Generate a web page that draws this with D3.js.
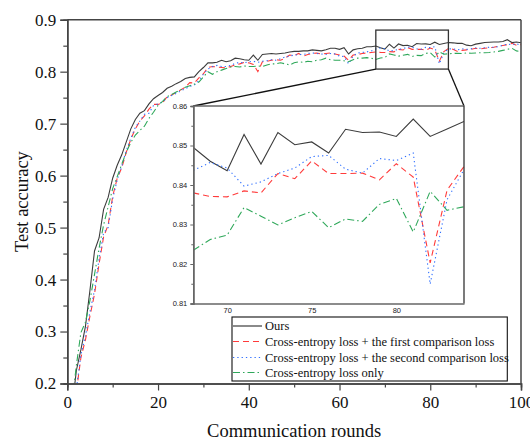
<!DOCTYPE html>
<html><head><meta charset="utf-8">
<script src="https://cdn.jsdelivr.net/npm/d3@7"></script>
<style>
body{margin:0;background:#fff;}
svg{display:block;}
.serif{font-family:"Liberation Serif","Times New Roman",serif;}
</style></head>
<body><div id="chart"></div>
<script>
// ---------- DATA ----------
const rounds = d3.range(1, 101);
const seriesNames = ["Ours","Cross-entropy loss + the first comparison loss","Cross-entropy loss + the second comparison loss","Cross-entropy loss only"];
const ours = [0.150,0.225,0.265,0.310,0.380,0.455,0.480,0.535,0.558,0.595,
0.620,0.640,0.665,0.690,0.708,0.720,0.725,0.738,0.748,0.754,
0.760,0.768,0.772,0.777,0.781,0.787,0.789,0.790,0.800,0.808,
0.817,0.817,0.818,0.822,0.819,0.821,0.826,0.825,0.823,0.822,
0.832,0.822,0.833,0.834,0.835,0.834,0.835,0.836,0.838,0.839,
0.839,0.840,0.840,0.842,0.841,0.840,0.842,0.845,0.845,0.843,
0.846,0.834,0.842,0.844,0.845,0.848,0.848,0.8495,0.846,0.8436,
0.8528,0.8453,0.8533,0.8502,0.8509,0.8481,0.8541,0.8533,0.8534,0.8523,
0.8567,0.8523,0.8542,0.8561,0.8555,0.8545,0.8548,0.8510,0.8500,0.8530,
0.8545,0.8560,0.8565,0.8570,0.8570,0.8580,0.8615,0.8560,0.8570,0.8555];
const firstLoss = [0.130,0.185,0.250,0.284,0.330,0.372,0.430,0.482,0.505,0.560,
0.595,0.615,0.645,0.670,0.690,0.705,0.715,0.728,0.737,0.737,
0.740,0.752,0.755,0.760,0.765,0.770,0.779,0.778,0.788,0.796,
0.808,0.810,0.809,0.808,0.807,0.810,0.813,0.815,0.818,0.817,
0.814,0.800,0.819,0.820,0.822,0.823,0.822,0.826,0.832,0.831,
0.835,0.830,0.833,0.835,0.836,0.834,0.835,0.836,0.834,0.832,
0.830,0.822,0.832,0.833,0.835,0.836,0.837,0.8380,0.8371,0.8370,
0.8385,0.8380,0.8429,0.8416,0.8461,0.8429,0.8429,0.8430,0.8413,0.8454,
0.8420,0.8203,0.8387,0.8447,0.8430,0.8390,0.8410,0.8420,0.8430,0.8450,
0.8440,0.8450,0.8460,0.8470,0.8490,0.8505,0.8520,0.8545,0.8510,0.8520];
const secondLoss = [0.135,0.190,0.255,0.292,0.338,0.380,0.440,0.490,0.500,0.555,
0.592,0.618,0.648,0.672,0.693,0.705,0.718,0.720,0.735,0.738,
0.742,0.750,0.754,0.758,0.763,0.767,0.772,0.774,0.783,0.795,
0.805,0.810,0.812,0.810,0.810,0.812,0.816,0.818,0.817,0.819,
0.820,0.818,0.820,0.821,0.823,0.822,0.825,0.828,0.830,0.832,
0.833,0.833,0.835,0.836,0.835,0.834,0.833,0.835,0.834,0.830,
0.829,0.815,0.830,0.836,0.837,0.838,0.840,0.8437,0.8457,0.8443,
0.8397,0.8408,0.8429,0.8443,0.8472,0.8475,0.8440,0.8430,0.8467,0.8462,
0.8481,0.8149,0.8363,0.8439,0.8440,0.8420,0.8440,0.8430,0.8440,0.8455,
0.8450,0.8460,0.8470,0.8470,0.8480,0.8510,0.8530,0.8520,0.8540,0.8500];
const ceOnly = [0.160,0.235,0.298,0.318,0.360,0.410,0.460,0.505,0.540,0.575,
0.598,0.622,0.645,0.664,0.678,0.687,0.695,0.710,0.722,0.735,
0.743,0.752,0.756,0.761,0.765,0.770,0.773,0.776,0.780,0.790,
0.800,0.795,0.800,0.803,0.806,0.809,0.810,0.809,0.811,0.810,
0.810,0.811,0.810,0.813,0.815,0.815,0.817,0.815,0.813,0.817,
0.819,0.818,0.820,0.819,0.822,0.823,0.826,0.823,0.822,0.822,
0.821,0.819,0.823,0.826,0.826,0.827,0.826,0.8235,0.8262,0.8273,
0.8343,0.8321,0.8299,0.8317,0.8333,0.8292,0.8314,0.8308,0.8351,0.8366,
0.8281,0.8384,0.8336,0.8345,0.8350,0.8355,0.8350,0.8360,0.8355,0.8360,
0.8365,0.8365,0.8370,0.8380,0.8390,0.8410,0.8430,0.8450,0.8400,0.8380];
const xTicks = [0,20,40,60,80,100];
const yTicks = [0.2,0.3,0.4,0.5,0.6,0.7,0.8,0.9];
const insetXTicks = [70,75,80];
const insetYTicks = [0.81,0.82,0.83,0.84,0.85,0.86];
const insetXDomain = [68,84];
const insetYDomain = [0.81,0.86];
const zoomBoxY = [0.805,0.880];

// ---------- STYLE ----------
const colors = ["#3c3c3c","#ff3b3b","#2f6fff","#2fa85a"];
const dashes = [null,"6,4","1.3,3","7,3,1.5,3"];
const allSeries = [ours, firstLoss, secondLoss, ceOnly];

const W=530,H=441;
const m={l:67.3,r:521,t:19.7,b:383.5};
const svg=d3.select("#chart").append("svg").attr("width",W).attr("height",H);
const x=d3.scaleLinear().domain([0,100]).range([m.l,m.r]);
const y=d3.scaleLinear().domain([0.2,0.9]).range([m.b,m.t]);
const axisColor="#444";

svg.append("clipPath").attr("id","mainclip").append("rect")
  .attr("x",m.l).attr("y",m.t).attr("width",m.r-m.l).attr("height",m.b-m.t);

const line=d3.line().x((d,i)=>x(rounds[i])).y(d=>y(d));
const gLines=svg.append("g").attr("clip-path","url(#mainclip)");
allSeries.forEach((s,k)=>{
  gLines.append("path").attr("d",line(s)).attr("fill","none")
   .attr("stroke",colors[k]).attr("stroke-width",1.1)
   .attr("stroke-dasharray",dashes[k]);
});

// frame top/right
svg.append("line").attr("x1",m.l).attr("x2",m.r).attr("y1",m.t).attr("y2",m.t).attr("stroke",axisColor).attr("stroke-width",1.5);
svg.append("line").attr("x1",m.r).attr("x2",m.r).attr("y1",m.t).attr("y2",m.b).attr("stroke",axisColor).attr("stroke-width",1.5);

// axes
const xAxis=svg.append("g").attr("transform",`translate(0,${m.b})`)
  .call(d3.axisBottom(x).tickValues(xTicks).tickSize(7).tickPadding(5).tickFormat(d3.format("d")));
const xMinor=svg.append("g").attr("transform",`translate(0,${m.b})`)
  .call(d3.axisBottom(x).tickValues([10,30,50,70,90]).tickSize(4).tickFormat(""));
const yAxis=svg.append("g").attr("transform",`translate(${m.l},0)`)
  .call(d3.axisLeft(y).tickValues(yTicks).tickSize(7).tickPadding(4).tickFormat(d3.format(".1f")));
const yMinor=svg.append("g").attr("transform",`translate(${m.l},0)`)
  .call(d3.axisLeft(y).tickValues([0.25,0.35,0.45,0.55,0.65,0.75,0.85]).tickSize(4).tickFormat(""));
[xAxis,xMinor,yAxis,yMinor].forEach(g=>{
  g.select(".domain").attr("stroke",axisColor).attr("stroke-width",1.5);
  g.selectAll(".tick line").attr("stroke",axisColor).attr("stroke-width",1.2);
  g.selectAll("text").attr("class","serif").attr("font-size",17).attr("fill","#111");
});

svg.append("text").attr("class","serif").attr("x",(m.l+m.r)/2).attr("y",437)
  .attr("text-anchor","middle").attr("font-size",18.5).attr("fill","#111").text("Communication rounds");
svg.append("text").attr("class","serif").attr("transform",`translate(28,${(m.t+m.b)/2}) rotate(-90)`)
  .attr("text-anchor","middle").attr("font-size",18.5).attr("fill","#111").text("Test accuracy");

// zoom box
const bx0=x(insetXDomain[0]), bx1=x(insetXDomain[1]), by0=y(zoomBoxY[1]), by1=y(zoomBoxY[0]);
svg.append("rect").attr("x",bx0).attr("y",by0).attr("width",bx1-bx0).attr("height",by1-by0)
  .attr("fill","none").attr("stroke","#333").attr("stroke-width",1.3);

// inset
const im={l:193.3,r:464,t:106,b:303.5};
const ix=d3.scaleLinear().domain(insetXDomain).range([im.l,im.r]);
const iy=d3.scaleLinear().domain(insetYDomain).range([im.b,im.t]);
svg.append("line").attr("x1",bx0).attr("y1",by1).attr("x2",im.l).attr("y2",im.t).attr("stroke","#111").attr("stroke-width",1.3);
svg.append("line").attr("x1",bx1).attr("y1",by1).attr("x2",im.r).attr("y2",im.t).attr("stroke","#111").attr("stroke-width",1.3);
svg.append("rect").attr("x",im.l).attr("y",im.t).attr("width",im.r-im.l).attr("height",im.b-im.t).attr("fill","#fff");
svg.append("clipPath").attr("id","insetclip").append("rect")
  .attr("x",im.l).attr("y",im.t).attr("width",im.r-im.l).attr("height",im.b-im.t);
const iline=d3.line().defined((d,i)=>rounds[i]>=insetXDomain[0]&&rounds[i]<=insetXDomain[1])
  .x((d,i)=>ix(rounds[i])).y(d=>iy(d));
const gI=svg.append("g").attr("clip-path","url(#insetclip)");
allSeries.forEach((s,k)=>{
  gI.append("path").attr("d",iline(s)).attr("fill","none")
   .attr("stroke",colors[k]).attr("stroke-width",1.1)
   .attr("stroke-dasharray",dashes[k]);
});
svg.append("line").attr("x1",im.l).attr("x2",im.r).attr("y1",im.t).attr("y2",im.t).attr("stroke","#666").attr("stroke-width",1.3);
svg.append("line").attr("x1",im.r).attr("x2",im.r).attr("y1",im.t).attr("y2",im.b).attr("stroke","#333").attr("stroke-width",1.3);
const ixA=svg.append("g").attr("transform",`translate(0,${im.b})`)
  .call(d3.axisBottom(ix).tickValues(insetXTicks).tickSize(0).tickPadding(4).tickFormat(d3.format("d")));
const iyA=svg.append("g").attr("transform",`translate(${im.l},0)`)
  .call(d3.axisLeft(iy).tickValues(insetYTicks).tickSize(3).tickPadding(3).tickFormat(d3.format(".2f")));
const iyM=svg.append("g").attr("transform",`translate(${im.l},0)`)
  .call(d3.axisLeft(iy).tickValues([0.815,0.825,0.835,0.845,0.855]).tickSize(2).tickFormat(""));
[ixA,iyA,iyM].forEach(g=>{
  g.select(".domain").attr("stroke","#666").attr("stroke-width",1.5);
  g.selectAll(".tick line").attr("stroke","#666");
  g.selectAll("text").attr("font-family","Liberation Sans, Arial, sans-serif").attr("font-size",7.5).attr("fill","#222");
});

// legend
const lg={x:232,y:317,w:275.3,h:64};
svg.append("rect").attr("x",lg.x).attr("y",lg.y).attr("width",lg.w).attr("height",lg.h)
  .attr("fill","#fff").attr("stroke","#111").attr("stroke-width",1.1);
const rowY=[326,341.5,357.5,372.5];
seriesNames.forEach((n,k)=>{
  svg.append("line").attr("x1",lg.x+1).attr("x2",lg.x+30).attr("y1",rowY[k]).attr("y2",rowY[k])
    .attr("stroke",colors[k]).attr("stroke-width",1.2).attr("stroke-dasharray",dashes[k]);
  svg.append("text").attr("class","serif").attr("x",lg.x+33).attr("y",rowY[k]+4.3)
    .attr("font-size",12.5).attr("fill","#111").text(n);
});
</script></body></html>
